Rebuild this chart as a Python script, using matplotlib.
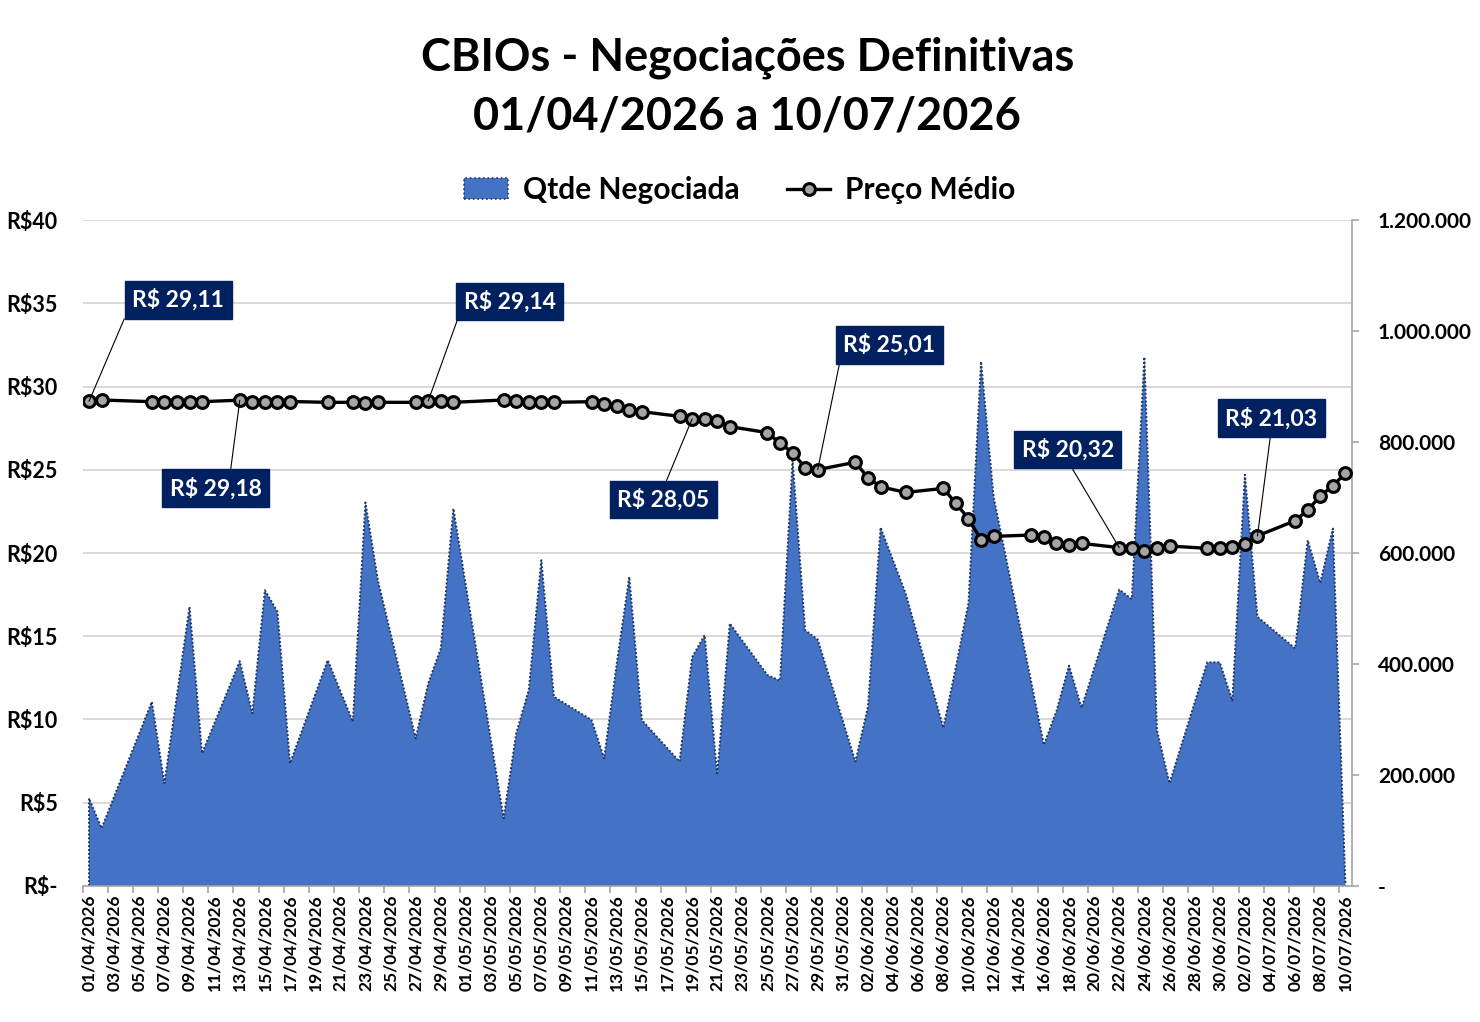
import numpy as np
import pandas as pd
import matplotlib
matplotlib.use("Agg")
from matplotlib import pyplot as plt
from matplotlib.patches import Patch
from matplotlib.lines import Line2D

plt.rcParams['font.family'] = ['Lato', 'DejaVu Sans']
plt.rcParams['font.weight'] = 'bold'

# ---------------------------------------------------------------------------
# Dados: pregões com negociação definitiva
# ---------------------------------------------------------------------------
datas = [
    "01/04/2026", "02/04/2026", "06/04/2026", "07/04/2026", "08/04/2026", "09/04/2026", "10/04/2026",
    "13/04/2026", "14/04/2026", "15/04/2026", "16/04/2026", "17/04/2026", "20/04/2026", "22/04/2026",
    "23/04/2026", "24/04/2026", "27/04/2026", "28/04/2026", "29/04/2026", "30/04/2026",
    "04/05/2026", "05/05/2026", "06/05/2026", "07/05/2026", "08/05/2026", "11/05/2026", "12/05/2026",
    "13/05/2026", "14/05/2026", "15/05/2026", "18/05/2026", "19/05/2026", "20/05/2026", "21/05/2026",
    "22/05/2026", "25/05/2026", "26/05/2026", "27/05/2026", "28/05/2026", "29/05/2026",
    "01/06/2026", "02/06/2026", "03/06/2026", "05/06/2026", "08/06/2026", "09/06/2026", "10/06/2026",
    "11/06/2026", "12/06/2026", "15/06/2026", "16/06/2026", "17/06/2026", "18/06/2026", "19/06/2026",
    "22/06/2026", "23/06/2026", "24/06/2026", "25/06/2026", "26/06/2026", "29/06/2026", "30/06/2026",
    "01/07/2026", "02/07/2026", "03/07/2026", "06/07/2026", "07/07/2026", "08/07/2026", "09/07/2026",
    "10/07/2026",
]

preco_medio = [
    29.11, 29.19, 29.09, 29.09, 29.09, 29.05, 29.09,
    29.18, 29.10, 29.10, 29.10, 29.10, 29.05, 29.05,
    29.01, 29.05, 29.05, 29.14, 29.13, 29.05,
    29.19, 29.13, 29.05, 29.05, 29.05, 29.09, 28.93,
    28.83, 28.59, 28.49, 28.21, 28.05, 28.07, 27.93,
    27.59, 27.23, 26.59, 26.03, 25.13, 25.01,
    25.45, 24.52, 23.98, 23.64, 23.88, 22.98, 22.06,
    20.80, 21.00, 21.08, 20.98, 20.58, 20.48, 20.58,
    20.32, 20.32, 20.12, 20.28, 20.42, 20.28, 20.28,
    20.34, 20.52, 21.03, 21.94, 22.58, 23.42, 24.04,
    24.79,
]

qtde_negociada = [
    158000, 104000, 332000, 185000, 344000, 503000, 239000,
    405000, 311000, 533000, 494000, 221000, 407000, 296000,
    691000, 550000, 266000, 365000, 428000, 680000,
    122000, 275000, 353000, 587000, 341000, 299000, 230000,
    400000, 557000, 299000, 224000, 412000, 452000, 200000,
    473000, 380000, 370000, 767000, 461000, 444000,
    224000, 323000, 646000, 527000, 285000, 395000, 510000,
    945000, 701000, 367000, 254000, 315000, 397000, 321000,
    534000, 517000, 953000, 281000, 185000, 403000, 403000,
    334000, 741000, 485000, 428000, 623000, 546000, 644000,
    5000,
]

# rótulos de preço destacados (data do ponto)
datas_rotulo = ["01/04/2026", "13/04/2026", "28/04/2026", "19/05/2026",
                "29/05/2026", "22/06/2026", "03/07/2026"]

# eixos
precos_ticks = [0, 5, 10, 15, 20, 25, 30, 35, 40]
qtde_ticks = [0, 200000, 400000, 600000, 800000, 1000000, 1200000]

# ---------------------------------------------------------------------------
# Preparação
# ---------------------------------------------------------------------------
dt = pd.to_datetime(datas, format="%d/%m/%Y")
inicio = dt[0]
x = np.array((dt - inicio).days, dtype=float)
n_dias = int(x[-1])

cor_area = "#4472C4"
cor_borda = "#1F3864"
cor_rotulo = "#002060"
cor_grade = "#D9D9D9"
cor_eixo = "#A6A6A6"

fig = plt.figure(figsize=(14.8, 10.22), dpi=100)
ax1 = fig.add_axes([0.0559, 0.1331, 0.8574, 0.6516])
ax2 = ax1.twinx()
ax1.set_zorder(2)
ax2.set_zorder(1)
ax1.patch.set_visible(False)

# área (eixo secundário)
ax2.fill_between(x, qtde_negociada, 0, facecolor=cor_area, edgecolor=cor_borda,
                 linestyle=(0, (1, 1)), linewidth=1.4, zorder=2)
ax2.set_ylim(0, qtde_ticks[-1])
escala = qtde_ticks[-1] / precos_ticks[-1]
for p in precos_ticks[1:]:
    ax2.axhline(p * escala, color=cor_grade, lw=1.4, zorder=0)

# linha de preço (eixo principal)
ax1.plot(x, preco_medio, color="black", lw=2.4, marker="o", markersize=8.5,
         markerfacecolor="#A5A5A5", markeredgecolor="black", markeredgewidth=2.2,
         zorder=3)
ax1.set_ylim(precos_ticks[0], precos_ticks[-1])
ax1.set_xlim(-0.5, n_dias + 0.5)

# ticks eixo esquerdo
ax1.set_yticks(precos_ticks)
ax1.set_yticklabels(["R$-" if v == 0 else f"R${v}" for v in precos_ticks], fontsize=15.5, fontweight="bold")
ax1.tick_params(axis="y", length=0, pad=18)

# ticks eixo direito
ax2.set_yticks(qtde_ticks)
ax2.set_yticklabels(["-" if v == 0 else f"{v:,.0f}".replace(",", ".") for v in qtde_ticks],
                    fontsize=15, fontweight="bold")
ax2.tick_params(axis="y", length=5, width=1.2, color=cor_eixo, pad=14)

# eixo x: rótulos a cada 2 dias
dias_rot = np.arange(0, n_dias + 1, 2)
ax1.set_xticks(dias_rot)
ax1.set_xticklabels([(inicio + pd.Timedelta(days=int(d))).strftime("%d/%m/%Y") for d in dias_rot],
                    rotation=90, fontsize=12.5, fontweight="bold")
ax1.set_xticks(np.arange(-0.5, n_dias + 1, 2), minor=True)
ax1.tick_params(axis="x", which="major", length=0, pad=6)
ax1.tick_params(axis="x", which="minor", length=5, width=1.2, color=cor_eixo)

for ax in (ax1, ax2):
    for s in ("top", "left", "right", "bottom"):
        ax.spines[s].set_visible(False)
ax1.spines["bottom"].set_visible(True)
ax1.spines["bottom"].set_color(cor_eixo)
ax1.spines["bottom"].set_linewidth(1.2)
ax2.spines["right"].set_visible(True)
ax2.spines["right"].set_color(cor_eixo)
ax2.spines["right"].set_linewidth(1.2)
ax2.tick_params(axis="x", length=0)

# rótulos de dados
pos_texto = [(7.1, 35.2), (10.1, 23.9), (33.5, 35.1), (45.7, 23.2),
             (63.7, 32.5), (77.9, 26.2), (94.1, 28.1)]
rel_pos = [(0, 0.5), (0.65, 1), (0, 0.5), (0.5, 1), (0, 0.5), (0.5, 0), (0.5, 0)]
for d, pt, rp in zip(datas_rotulo, pos_texto, rel_pos):
    i = datas.index(d)
    txt = f"R$ {preco_medio[i]:.2f}".replace(".", ",")
    ax1.annotate(txt, xy=(x[i], preco_medio[i]), xytext=pt, textcoords="data",
                 ha="center", va="center", color="white", fontsize=16.5, fontweight="bold",
                 bbox=dict(boxstyle="square,pad=0.33", fc=cor_rotulo, ec=cor_rotulo),
                 arrowprops=dict(arrowstyle="-", color="black", lw=0.8, relpos=rp,
                                 shrinkA=0, shrinkB=0),
                 zorder=5)

# título
fig.text(0.505, 0.9149, "CBIOs - Negociações Definitivas\n01/04/2026 a 10/07/2026",
         ha="center", va="center", fontsize=32.5, fontweight="bold", linespacing=1.5)

# legenda
h_area = Patch(facecolor=cor_area, edgecolor=cor_borda, linestyle=":", linewidth=1.2)
h_linha = Line2D([], [], color="black", lw=2.4, marker="o", markersize=8.5,
                 markerfacecolor="#A5A5A5", markeredgecolor="black", markeredgewidth=2.2)
fig.legend([h_area, h_linha], ["Qtde Negociada", "Preço Médio"], loc="center",
           bbox_to_anchor=(0.5, 0.814), ncol=2, frameon=False,
           prop={"size": 21.5, "weight": "bold"}, handlelength=1.45, columnspacing=1.6,
           handletextpad=0.5)

fig.savefig("out.png", dpi=100)
